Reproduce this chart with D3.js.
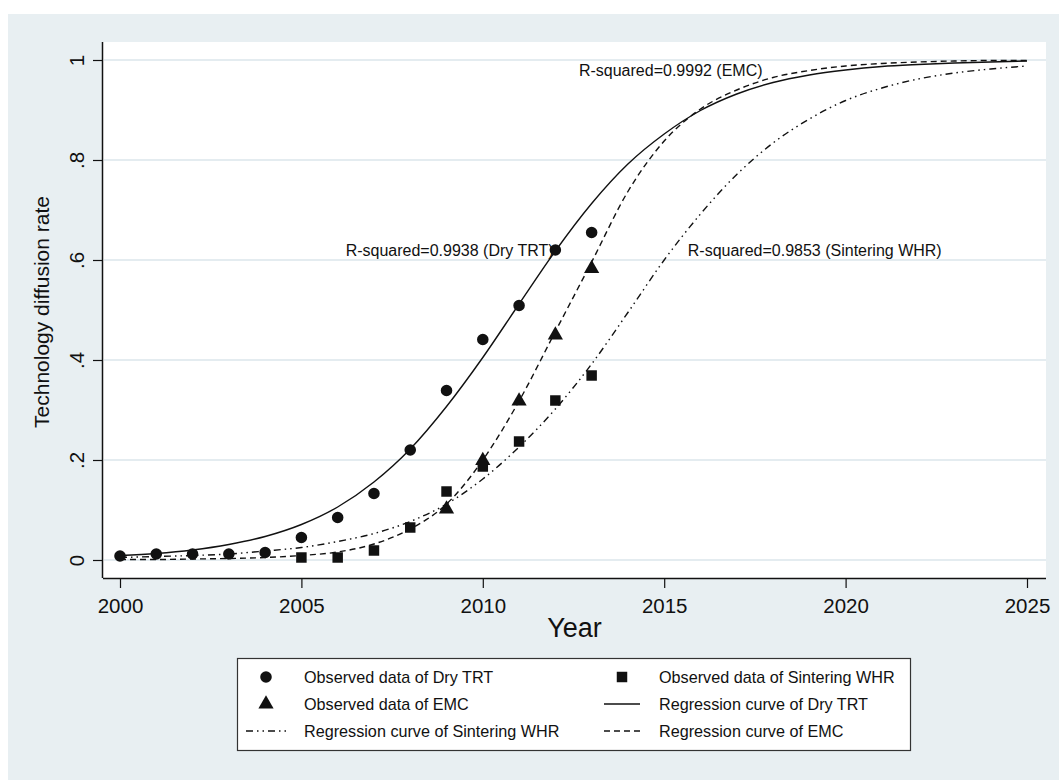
<!DOCTYPE html>
<html>
<head>
<meta charset="utf-8">
<script src="https://cdn.jsdelivr.net/npm/d3@7"></script>
<style>
  html, body { margin: 0; padding: 0; background: #ffffff; }
  svg { display: block; font-family: "Liberation Sans", Arial, sans-serif; }
</style>
</head>
<body>
<svg id="chart" width="1059" height="780"></svg>
<script>
// Observed diffusion rates
const obsYears = [2000, 2001, 2002, 2003, 2004, 2005, 2006, 2007, 2008, 2009, 2010, 2011, 2012, 2013];
const dryTrtObs = [0.008, 0.012, 0.012, 0.012, 0.015, 0.045, 0.085, 0.133, 0.220, 0.339, 0.441, 0.509, 0.620, 0.655];

const whrYears = [2005, 2006, 2007, 2008, 2009, 2010, 2011, 2012, 2013];
const whrObs = [0.005, 0.005, 0.019, 0.065, 0.137, 0.187, 0.237, 0.319, 0.369];

const emcYears = [2009, 2010, 2011, 2012, 2013];
const emcObs = [0.104, 0.201, 0.320, 0.452, 0.585];

// Fitted regression curves, one value per year 2000-2025
const curveYears = [2000, 2001, 2002, 2003, 2004, 2005, 2006, 2007, 2008, 2009, 2010, 2011, 2012,
                    2013, 2014, 2015, 2016, 2017, 2018, 2019, 2020, 2021, 2022, 2023, 2024, 2025];
const dryTrtFit = [0.009, 0.013, 0.020, 0.031, 0.047, 0.071, 0.106, 0.156, 0.222, 0.307, 0.405, 0.512, 0.618,
                   0.713, 0.792, 0.852, 0.899, 0.932, 0.955, 0.970, 0.980, 0.987, 0.991, 0.994, 0.996, 0.998];
const emcFit = [0.001, 0.001, 0.002, 0.003, 0.005, 0.009, 0.016, 0.032, 0.062, 0.112, 0.200, 0.318, 0.457,
                0.596, 0.737, 0.838, 0.902, 0.940, 0.965, 0.979, 0.988, 0.993, 0.996, 0.998, 0.999, 0.999];
const whrFit = [0.005, 0.007, 0.009, 0.012, 0.018, 0.025, 0.037, 0.053, 0.077, 0.112, 0.162, 0.226, 0.302,
                0.392, 0.495, 0.600, 0.692, 0.771, 0.834, 0.882, 0.919, 0.944, 0.962, 0.974, 0.982, 0.988];

// Axis ticks
const xTicks = [2000, 2005, 2010, 2015, 2020, 2025];
const yTicks = [0, 0.2, 0.4, 0.6, 0.8, 1];
const yTickLabels = ["0", ".2", ".4", ".6", ".8", "1"];

// R-squared annotations
const annotations = [
  { text: "R-squared=0.9992 (EMC)", year: 2012.65, value: 0.98 },
  { text: "R-squared=0.9938 (Dry TRT)", year: 2006.22, value: 0.62 },
  { text: "R-squared=0.9853 (Sintering WHR)", year: 2015.65, value: 0.62 }
];

const svg = d3.select("#chart");
const ink = "#111111";

// Graph region background
svg.append("rect").attr("x", 8).attr("y", 14).attr("width", 1051).attr("height", 766).attr("fill", "#e8eff2");

// Plot region
const plot = { left: 103, right: 1046, top: 42, bottom: 578 };
svg.append("rect")
  .attr("x", plot.left).attr("y", plot.top)
  .attr("width", plot.right - plot.left).attr("height", plot.bottom - plot.top)
  .attr("fill", "#ffffff");

const x = d3.scaleLinear().domain([2000, 2025]).range([120, 1027]);
const y = d3.scaleLinear().domain([0, 1]).range([560, 60]);

// Horizontal gridlines
svg.append("g").selectAll("line").data(yTicks).join("line")
  .attr("x1", plot.left + 1).attr("x2", plot.right)
  .attr("y1", d => y(d)).attr("y2", d => y(d))
  .attr("stroke", "#e4ecf0").attr("stroke-width", 2);

// X axis
const xAxis = svg.append("g")
  .attr("transform", `translate(0,${plot.bottom})`)
  .call(d3.axisBottom(x).tickValues(xTicks).tickFormat(d3.format("d")).tickSize(10).tickSizeOuter(0).tickPadding(10));
xAxis.select(".domain").attr("d", `M${plot.left},0.5H${plot.right}`).attr("stroke", ink).attr("stroke-width", 1.5);
xAxis.selectAll(".tick line").attr("stroke", ink).attr("stroke-width", 1.2);
xAxis.selectAll(".tick text").attr("fill", ink).attr("font-size", 20.5)
  .attr("font-family", "Liberation Sans, Arial, sans-serif");

// Y axis
const yAxis = svg.append("g")
  .attr("transform", `translate(${plot.left},0)`)
  .call(d3.axisLeft(y).tickValues(yTicks).tickFormat((d, i) => yTickLabels[i]).tickSize(10).tickSizeOuter(0));
yAxis.select(".domain").attr("d", `M-0.5,${plot.top}V${plot.bottom}`).attr("stroke", ink).attr("stroke-width", 1.5);
yAxis.selectAll(".tick line").attr("stroke", ink).attr("stroke-width", 1.2);
yAxis.selectAll(".tick text")
  .attr("fill", ink).attr("font-size", 20.5)
  .attr("font-family", "Liberation Sans, Arial, sans-serif")
  .attr("x", null).attr("dy", null)
  .attr("text-anchor", "middle")
  .attr("transform", "translate(-19,0) rotate(-90)")
  .attr("dy", "0em");

// Axis titles
svg.append("text")
  .attr("x", (plot.left + plot.right) / 2).attr("y", 637)
  .attr("text-anchor", "middle").attr("font-size", 27).attr("fill", ink)
  .text("Year");
svg.append("text")
  .attr("transform", `translate(49,${(plot.top + plot.bottom) / 2 + 2}) rotate(-90)`)
  .attr("text-anchor", "middle").attr("font-size", 21).attr("fill", ink)
  .text("Technology diffusion rate");

// Regression curves
const line = d3.line().x(d => x(d[0])).y(d => y(d[1])).curve(d3.curveMonotoneX);
const curves = [
  { values: dryTrtFit, dash: null },
  { values: emcFit, dash: "6,4" },
  { values: whrFit, dash: "7,4,1.5,4,1.5,4" }
];
svg.append("g").selectAll("path").data(curves).join("path")
  .attr("d", c => line(curveYears.map((yr, i) => [yr, c.values[i]])))
  .attr("fill", "none").attr("stroke", ink).attr("stroke-width", 1.4)
  .attr("stroke-dasharray", c => c.dash);

// Observed markers
const sym = {
  circle: d3.symbol().type(d3.symbolCircle).size(105),
  square: d3.symbol().type(d3.symbolSquare).size(110),
  triangle: d3.symbol().type(d3.symbolTriangle).size(100)
};
const markers = svg.append("g");
markers.selectAll(".whr").data(whrYears.map((yr, i) => [yr, whrObs[i]])).join("path")
  .attr("class", "whr").attr("d", sym.square)
  .attr("transform", d => `translate(${x(d[0])},${y(d[1])})`).attr("fill", ink);
markers.selectAll(".emc").data(emcYears.map((yr, i) => [yr, emcObs[i]])).join("path")
  .attr("class", "emc").attr("d", sym.triangle)
  .attr("transform", d => `translate(${x(d[0])},${y(d[1]) + 1})`).attr("fill", ink);
markers.selectAll(".dry").data(obsYears.map((yr, i) => [yr, dryTrtObs[i]])).join("path")
  .attr("class", "dry").attr("d", sym.circle)
  .attr("transform", d => `translate(${x(d[0])},${y(d[1])})`).attr("fill", ink);

// R-squared labels
svg.append("g").selectAll("text").data(annotations).join("text")
  .attr("x", d => x(d.year)).attr("y", d => y(d.value) + 6)
  .attr("font-size", 16).attr("fill", ink)
  .text(d => d.text);

// Legend
const legend = svg.append("g");
legend.append("rect").attr("x", 237.5).attr("y", 658.5).attr("width", 673).attr("height", 92)
  .attr("fill", "#ffffff").attr("stroke", "#333333").attr("stroke-width", 1.2);
const legendItems = [
  { label: "Observed data of Dry TRT", col: 0, row: 0, kind: "circle" },
  { label: "Observed data of Sintering WHR", col: 1, row: 0, kind: "square" },
  { label: "Observed data of EMC", col: 0, row: 1, kind: "triangle" },
  { label: "Regression curve of Dry TRT", col: 1, row: 1, kind: "line", dash: null },
  { label: "Regression curve of Sintering WHR", col: 0, row: 2, kind: "line", dash: "7,4,1.5,4,1.5,4" },
  { label: "Regression curve of EMC", col: 1, row: 2, kind: "line", dash: "6,4" }
];
const colKey = [266, 622];
const colText = [304, 659];
const rowY = [677, 704, 731];
legendItems.forEach(it => {
  const cx = colKey[it.col], cy = rowY[it.row];
  if (it.kind === "line") {
    legend.append("line")
      .attr("x1", it.col === 0 ? 246 : 604).attr("x2", it.col === 0 ? 290 : 640)
      .attr("y1", cy).attr("y2", cy)
      .attr("stroke", ink).attr("stroke-width", 1.4).attr("stroke-dasharray", it.dash);
  } else {
    legend.append("path").attr("d", sym[it.kind])
      .attr("transform", `translate(${cx},${cy})`).attr("fill", ink);
  }
  legend.append("text").attr("x", colText[it.col]).attr("y", cy + 6)
    .attr("font-size", 16.2).attr("fill", ink).text(it.label);
});
</script>
</body>
</html>
